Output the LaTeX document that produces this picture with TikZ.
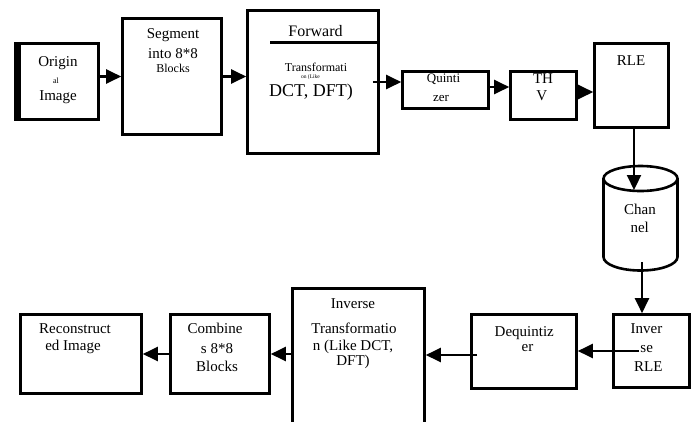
\documentclass[tikz,border=0pt]{standalone}
\usepackage{fontspec}
\setmainfont{Liberation Serif}
\usetikzlibrary{arrows.meta}
\usetikzlibrary{calc}

\begin{document}
\begin{tikzpicture}[x=1pt,y=-1pt,
  box/.style={draw, line width=2.6pt, inner sep=0pt},
  link/.style={line width=2.2pt, -{Triangle[length=15pt,width=14pt]}},
  txt/.style={anchor=base, inner sep=0pt, font=\fontsize{15}{17}\selectfont},
  small/.style={anchor=base, inner sep=0pt, font=\fontsize{12}{14}\selectfont},
  tiny/.style={anchor=base, inner sep=0pt, font=\fontsize{7}{8}\selectfont}]
\useasboundingbox (0,0) rectangle (698,421);

% sender side
\node[box, minimum width=83pt, minimum height=76pt] (orig) at (57,81.5) {};
\fill (14,42) rectangle (20.5,121);
\node[txt] (origA) at (58,66) {Origin};
\node[tiny, font=\fontsize{8}{9}\selectfont] (origB) at (56,83) {al};
\node[txt] (origC) at (58,100) {Image};

\node[box, minimum width=99pt, minimum height=116pt] (seg) at (172,76.5) {};
\node[txt] (segA) at (173,38) {Segment};
\node[txt] (segB) at (173,58) {into 8*8};
\node[small] (segC) at (173,72) {Blocks};

\node[box, minimum width=131pt, minimum height=143pt] (fwd) at (313,82) {};
\coordinate (fwdbar) at (270,42.5);
\draw[line width=2.6pt] (fwdbar) -- (fwdbar -| fwd.east);
\node[txt, font=\fontsize{16}{18}\selectfont] (fwdA) at (315.5,36.7) {Forward};
\node[small] (fwdB) at (316,71) {Transformati};
\node[tiny, font=\fontsize{5.5}{6}\selectfont] (fwdC) at (310.5,78.5) {on (Like};
\node[txt, font=\fontsize{18}{20}\selectfont] (fwdD) at (311,96.7) {DCT, DFT)};

\node[box, minimum width=86pt, minimum height=37pt] (quin) at (445.5,90) {};
\node[txt, font=\fontsize{13}{15}\selectfont] (quinA) at (443.5,82.7) {Quinti};
\node[txt, font=\fontsize{13}{15}\selectfont] (quinB) at (441,101) {zer};

\node[box, minimum width=66pt, minimum height=48pt] (thv) at (543.5,95.5) {};
\node[txt] (thvA) at (543,83.3) {TH};
\node[txt] (thvB) at (541.7,100) {V};

\node[box, minimum width=74pt, minimum height=84pt] (rle) at (631.5,85.5) {};
\node[txt] (rleA) at (631,65) {RLE};

\draw[link] (orig.east |- seg.west) -- (seg.west);
\draw[link] (seg.east) -- (seg.east -| fwd.west);
\draw[link] ([xshift=-7pt]fwd.east) -- (fwd.east -| quin.west);
\draw[link] ([yshift=3pt]quin.east) -- ([yshift=3pt]quin.east -| thv.west);
\draw[link] ([yshift=3.5pt]thv.east) -- ([yshift=3.5pt]thv.east -| rle.west);

% channel
\coordinate (chantop) at (634,190);
\coordinate (chanbot) at (642,262);
\draw[box] (640.5,178.5) ellipse [x radius=37pt, y radius=12.5pt];
\draw[box] (603.5,178.5) -- (603.5,257)
  arc [start angle=180, end angle=360, x radius=37pt, y radius=13.5pt] -- (677.5,178.5);
\node[txt] (chanA) at (640,214.3) {Chan};
\node[txt] (chanB) at (639.7,232.7) {nel};
\draw[link] ([xshift=2.5pt]rle.south) -- (chantop);

% receiver side
\node[box, minimum width=76pt, minimum height=73pt] (invrle) at (651.5,351) {};
\node[txt] (invrleA) at (646.5,333.3) {Inver};
\node[txt] (invrleB) at (646.7,352.7) {se};
\node[txt] (invrleC) at (648.3,371) {RLE};

\node[box, minimum width=105pt, minimum height=74pt] (deq) at (524,351.5) {};
\node[txt] (deqA) at (524.3,336) {Dequintiz};
\node[txt] (deqB) at (527.5,351.7) {er};

\node[box, minimum width=132pt, minimum height=171pt] (invtr) at (358.5,374) {};
\node[txt] (invtrA) at (353,308) {Inverse};
\node[txt] (invtrB) at (354,333) {Transformatio};
\node[txt] (invtrC) at (353,350) {n (Like DCT,};
\node[txt] (invtrD) at (353,365) {DFT)};

\node[box, minimum width=99pt, minimum height=79pt] (comb) at (220,354) {};
\node[txt] (combA) at (215,333) {Combine};
\node[txt] (combB) at (217,353) {s 8*8};
\node[txt] (combC) at (217,371) {Blocks};

\node[box, minimum width=121pt, minimum height=79pt] (recon) at (81,354) {};
\node[txt] (reconA) at (75,333) {Reconstruct};
\node[txt] (reconB) at (73,350) {ed Image};

\draw[link] (chanbot) -- (chanbot |- invrle.north);
\draw[link] ([xshift=-12.5pt]invrle.center) -- (invrle.center -| deq.east);
\draw[link] ([xshift=7pt,yshift=-3.5pt]deq.west) -- ([yshift=-3.5pt]deq.west -| invtr.east);
\draw[link] (invtr.west |- comb.east) -- (comb.east);
\draw[link] (comb.west) -- (recon.east);
\end{tikzpicture}
\end{document}
